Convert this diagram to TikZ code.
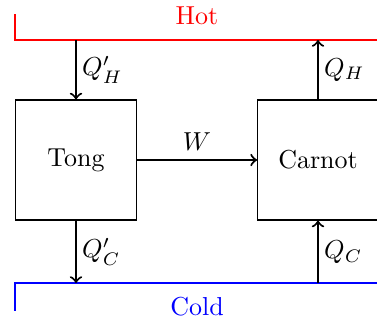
\documentclass[tikz,border=0pt]{standalone}
\usepackage{tikz}
\usetikzlibrary{positioning}

\begin{document}
\begin{tikzpicture}[x=0.385pt, y=-0.385pt,
    engine/.style={draw, line width=0.4pt, minimum width=46.5pt, minimum height=46.2pt},
    flow/.style={->, thick},
    flowlabel/.style={right, inner sep=2pt},
    reservoir/.style={thick, line cap=rect}]
  \useasboundingbox (0,0) rectangle (377,320);
  \clip (0,0) rectangle (377,320);
  % Reservoirs
  \draw[reservoir, red] (15,15) -- (15,40) -- (400,40);
  \node[red] (hot) at (197,16) {Hot};
  \draw[reservoir, blue] (15,310) -- (15,283) -- (400,283);
  \node[blue] (cold) at (197,307) {Cold};
  % Engines
  \node[engine] (tong) at (76,160) {Tong};
  \node[engine] (carnot) at (318,160) {Carnot};
  % Taps on the reservoir lines
  \coordinate (tongH) at (76,40);
  \coordinate (tongC) at (76,283);
  \coordinate (carnotH) at (318,40);
  \coordinate (carnotC) at (318,283);
  % Heat and work flows
  \draw[flow] (tongH) -- node[flowlabel] {$Q'_H$} (tong);
  \draw[flow] (tong) -- node[flowlabel] {$Q'_C$} (tongC);
  \draw[flow] (carnot) -- node[flowlabel] {$Q_H$} (carnotH);
  \draw[flow] (carnotC) -- node[flowlabel] {$Q_C$} (carnot);
  \draw[flow] (tong) -- node[above] {$W$} (carnot);
\end{tikzpicture}
\end{document}
